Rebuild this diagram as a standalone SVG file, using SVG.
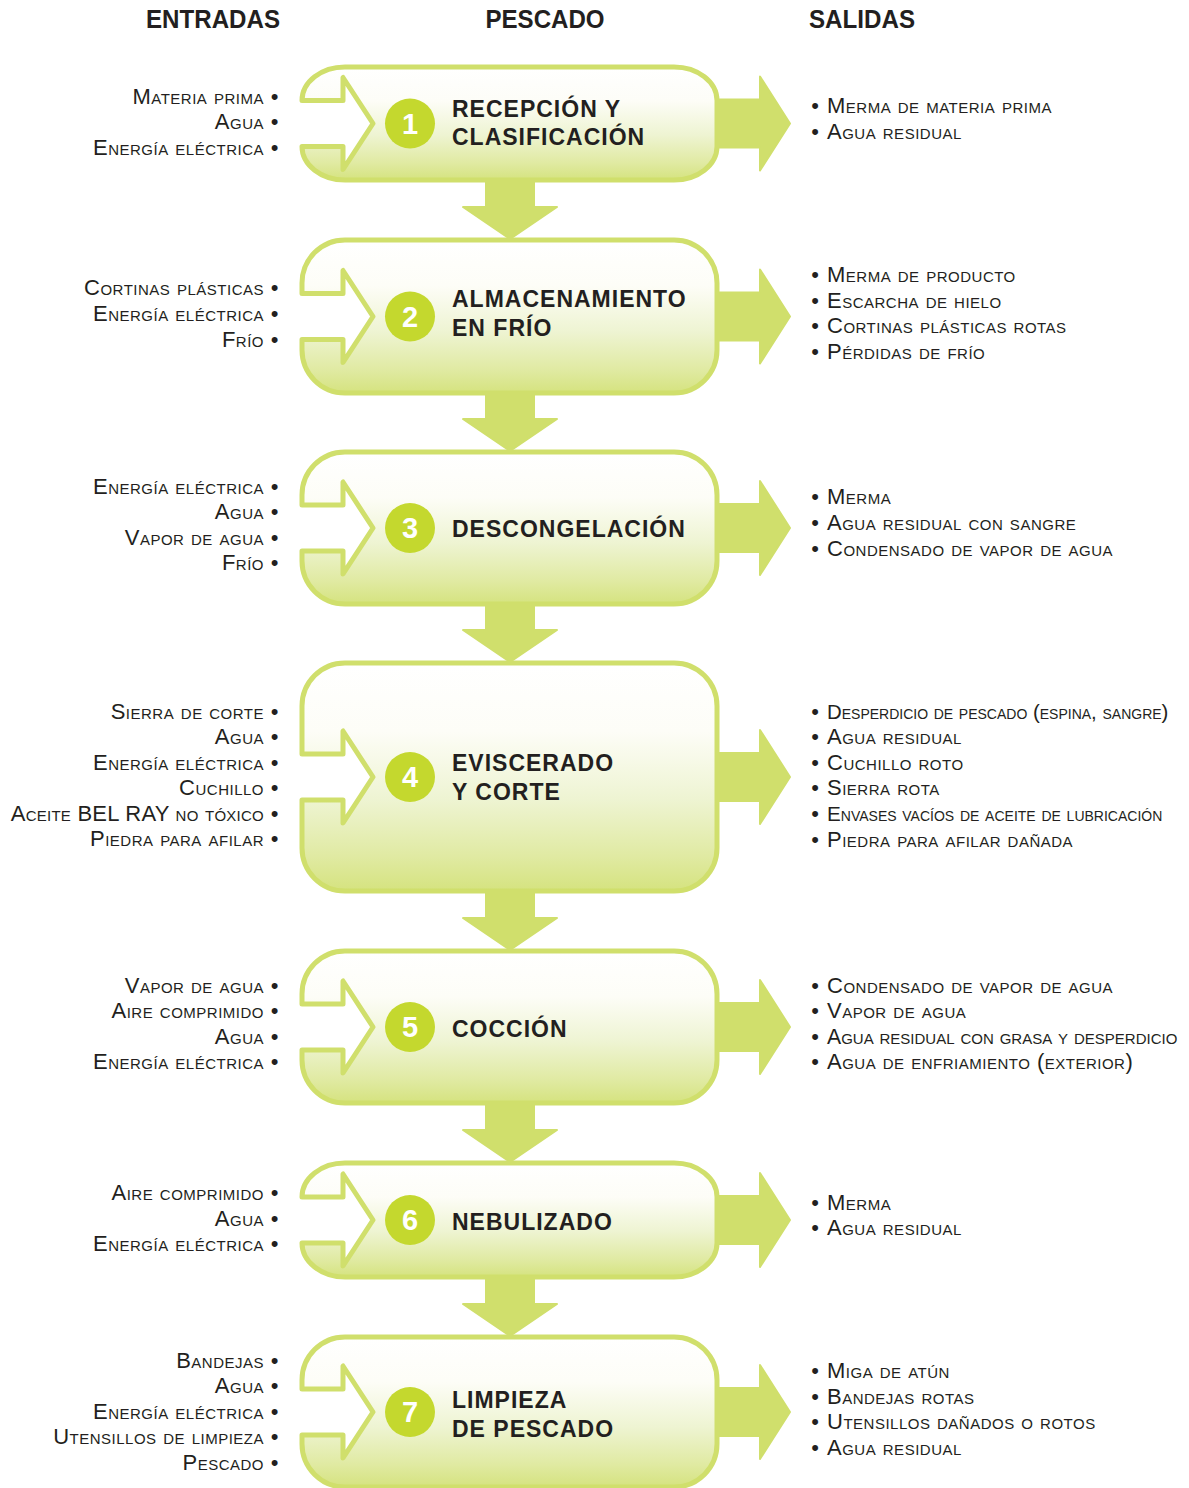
<svg xmlns="http://www.w3.org/2000/svg" width="1189" height="1488" viewBox="0 0 1189 1488">
<defs>
<linearGradient id="g" x1="0" y1="0" x2="0" y2="1">
<stop offset="0" stop-color="#ffffff"/>
<stop offset="0.3" stop-color="#fdfdf7"/>
<stop offset="0.6" stop-color="#eef4d2"/>
<stop offset="0.85" stop-color="#e0eaa2"/>
<stop offset="1" stop-color="#d5e37f"/>
</linearGradient>
<style>
.box{fill:url(#g);stroke:#d0df6c;stroke-width:5;stroke-linejoin:round}
.arr{fill:#d0df6c;stroke:#d0df6c;stroke-width:2;stroke-linejoin:round}
.num{fill:#c4d82e}
.nt{font-family:"Liberation Sans",Arial,Helvetica,sans-serif;font-weight:bold;font-size:29px;fill:#ffffff;text-anchor:middle}
.tt{font-family:"Liberation Sans",Arial,Helvetica,sans-serif;font-weight:bold;font-size:23px;letter-spacing:1px;fill:#231f20}
.hd{font-family:"Liberation Sans Narrow","Liberation Sans",Arial,sans-serif;font-weight:bold;font-size:25px;fill:#231f20;text-anchor:middle}
.in{font-family:"Liberation Sans",Arial,Helvetica,sans-serif;font-size:22px;letter-spacing:0.5px;font-variant:small-caps;fill:#231f20;text-anchor:end}
.out{font-family:"Liberation Sans",Arial,Helvetica,sans-serif;font-size:22px;letter-spacing:0.5px;font-variant:small-caps;fill:#231f20}
.b{font-family:"Liberation Sans",Arial,Helvetica,sans-serif;font-size:22px;fill:#231f20;text-anchor:middle}
</style>
</defs>
<rect width="1189" height="1488" fill="#ffffff"/>
<g id="headers">
<text class="hd" x="213" y="28" textLength="134" lengthAdjust="spacingAndGlyphs">ENTRADAS</text>
<text class="hd" x="545" y="28" textLength="119" lengthAdjust="spacingAndGlyphs">PESCADO</text>
<text class="hd" x="862" y="28" textLength="106" lengthAdjust="spacingAndGlyphs">SALIDAS</text>
</g>
<g id="connectors">
<polygon class="arr" points="712,99.5 760,99.5 760,76.5 790,123.5 760,170.5 760,147.5 712,147.5"/>
<polygon class="arr" points="712,292.5 760,292.5 760,269.5 790,316.5 760,363.5 760,340.5 712,340.5"/>
<polygon class="arr" points="712,504 760,504 760,481 790,528 760,575 760,552 712,552"/>
<polygon class="arr" points="712,753 760,753 760,730 790,777 760,824 760,801 712,801"/>
<polygon class="arr" points="712,1003 760,1003 760,980 790,1027 760,1074 760,1051 712,1051"/>
<polygon class="arr" points="712,1196 760,1196 760,1173 790,1220 760,1267 760,1244 712,1244"/>
<polygon class="arr" points="712,1388 760,1388 760,1365 790,1412 760,1459 760,1436 712,1436"/>
<polygon class="arr" points="486,176 534,176 534,207 557,207 510,239 463,207 486,207"/>
<polygon class="arr" points="486,389 534,389 534,419 557,419 510,451 463,419 486,419"/>
<polygon class="arr" points="486,600 534,600 534,630 557,630 510,662 463,630 486,630"/>
<polygon class="arr" points="486,887 534,887 534,918 557,918 510,950 463,918 486,918"/>
<polygon class="arr" points="486,1099 534,1099 534,1130 557,1130 510,1162 463,1130 486,1130"/>
<polygon class="arr" points="486,1273 534,1273 534,1304 557,1304 510,1336 463,1304 486,1304"/>
</g>
<g id="node1">
<path class="box" d="M345,67 H674 A43,33.5 0 0 1 717,100.5 V146.5 A43,33.5 0 0 1 674,180 H345 A43,33.5 0 0 1 302,146.5 H343 V169.5 L373,123.5 L343,77.5 V100.5 H302 A43,33.5 0 0 1 345,67 Z"/>
<circle class="num" cx="410" cy="123.5" r="25"/>
<text class="nt" x="410" y="133.5">1</text>
<text class="tt" x="452" y="117">RECEPCIÓN Y</text>
<text class="tt" x="452" y="145">CLASIFICACIÓN</text>
<text class="in" x="264" y="104">Materia prima</text>
<text class="in" x="264" y="129">Agua</text>
<text class="in" x="264" y="155">Energía eléctrica</text>
<text class="b" x="274.5" y="104">•</text><text class="b" x="274.5" y="129">•</text><text class="b" x="274.5" y="155">•</text>
<text class="b" x="815" y="113">•</text><text class="b" x="815" y="139">•</text>
<text class="out" x="827" y="113">Merma de materia prima</text>
<text class="out" x="827" y="139">Agua residual</text>
</g>
<g id="node2">
<path class="box" d="M345,240 H674 A43,43 0 0 1 717,283 V350 A43,43 0 0 1 674,393 H345 A43,43 0 0 1 302,350 V339.5 H343 V362.5 L373,316.5 L343,270.5 V293.5 H302 V283 A43,43 0 0 1 345,240 Z"/>
<circle class="num" cx="410" cy="316.5" r="25"/>
<text class="nt" x="410" y="326.5">2</text>
<text class="tt" x="452" y="307">ALMACENAMIENTO</text>
<text class="tt" x="452" y="336">EN FRÍO</text>
<text class="in" x="264" y="295">Cortinas plásticas</text>
<text class="in" x="264" y="321">Energía eléctrica</text>
<text class="in" x="264" y="347">Frío</text>
<text class="b" x="274.5" y="295">•</text><text class="b" x="274.5" y="321">•</text><text class="b" x="274.5" y="347">•</text>
<text class="b" x="815" y="282">•</text><text class="b" x="815" y="308">•</text><text class="b" x="815" y="333">•</text><text class="b" x="815" y="359">•</text>
<text class="out" x="827" y="282">Merma de producto</text>
<text class="out" x="827" y="308">Escarcha de hielo</text>
<text class="out" x="827" y="333">Cortinas plásticas rotas</text>
<text class="out" x="827" y="359">Pérdidas de frío</text>
</g>
<g id="node3">
<path class="box" d="M345,452 H674 A43,43 0 0 1 717,495 V561 A43,43 0 0 1 674,604 H345 A43,43 0 0 1 302,561 V551 H343 V574 L373,528 L343,482 V505 H302 V495 A43,43 0 0 1 345,452 Z"/>
<circle class="num" cx="410" cy="528" r="25"/>
<text class="nt" x="410" y="538">3</text>
<text class="tt" x="452" y="537">DESCONGELACIÓN</text>
<text class="in" x="264" y="494">Energía eléctrica</text>
<text class="in" x="264" y="519">Agua</text>
<text class="in" x="264" y="545">Vapor de agua</text>
<text class="in" x="264" y="570">Frío</text>
<text class="b" x="274.5" y="494">•</text><text class="b" x="274.5" y="519">•</text><text class="b" x="274.5" y="545">•</text><text class="b" x="274.5" y="570">•</text>
<text class="b" x="815" y="504">•</text><text class="b" x="815" y="530">•</text><text class="b" x="815" y="556">•</text>
<text class="out" x="827" y="504">Merma</text>
<text class="out" x="827" y="530">Agua residual con sangre</text>
<text class="out" x="827" y="556">Condensado de vapor de agua</text>
</g>
<g id="node4">
<path class="box" d="M345,663 H674 A43,43 0 0 1 717,706 V848 A43,43 0 0 1 674,891 H345 A43,43 0 0 1 302,848 V800 H343 V823 L373,777 L343,731 V754 H302 V706 A43,43 0 0 1 345,663 Z"/>
<circle class="num" cx="410" cy="777" r="25"/>
<text class="nt" x="410" y="787">4</text>
<text class="tt" x="452" y="771">EVISCERADO</text>
<text class="tt" x="452" y="800">Y CORTE</text>
<text class="in" x="264" y="719">Sierra de corte</text>
<text class="in" x="264" y="744">Agua</text>
<text class="in" x="264" y="770">Energía eléctrica</text>
<text class="in" x="264" y="795">Cuchillo</text>
<text class="in" x="264" y="821" style="letter-spacing:0.25px">Aceite BEL RAY no tóxico</text>
<text class="in" x="264" y="846">Piedra para afilar</text>
<text class="b" x="274.5" y="719">•</text><text class="b" x="274.5" y="744">•</text><text class="b" x="274.5" y="770">•</text><text class="b" x="274.5" y="795">•</text><text class="b" x="274.5" y="821">•</text><text class="b" x="274.5" y="846">•</text>
<text class="b" x="815" y="719">•</text><text class="b" x="815" y="744">•</text><text class="b" x="815" y="770">•</text><text class="b" x="815" y="795">•</text><text class="b" x="815" y="821">•</text><text class="b" x="815" y="847">•</text>
<text class="out" x="827" y="719" style="font-size:20.4px;letter-spacing:0">Desperdicio de pescado (espina, sangre)</text>
<text class="out" x="827" y="744">Agua residual</text>
<text class="out" x="827" y="770">Cuchillo roto</text>
<text class="out" x="827" y="795">Sierra rota</text>
<text class="out" x="827" y="821" style="font-size:20.7px;letter-spacing:0">Envases vacíos de aceite de lubricación</text>
<text class="out" x="827" y="847">Piedra para afilar dañada</text>
</g>
<g id="node5">
<path class="box" d="M345,951 H674 A43,43 0 0 1 717,994 V1060 A43,43 0 0 1 674,1103 H345 A43,43 0 0 1 302,1060 V1050 H343 V1073 L373,1027 L343,981 V1004 H302 V994 A43,43 0 0 1 345,951 Z"/>
<circle class="num" cx="410" cy="1027" r="25"/>
<text class="nt" x="410" y="1037">5</text>
<text class="tt" x="452" y="1037">COCCIÓN</text>
<text class="in" x="264" y="993">Vapor de agua</text>
<text class="in" x="264" y="1018">Aire comprimido</text>
<text class="in" x="264" y="1044">Agua</text>
<text class="in" x="264" y="1069">Energía eléctrica</text>
<text class="b" x="274.5" y="993">•</text><text class="b" x="274.5" y="1018">•</text><text class="b" x="274.5" y="1044">•</text><text class="b" x="274.5" y="1069">•</text>
<text class="b" x="815" y="993">•</text><text class="b" x="815" y="1018">•</text><text class="b" x="815" y="1044">•</text><text class="b" x="815" y="1069">•</text>
<text class="out" x="827" y="993">Condensado de vapor de agua</text>
<text class="out" x="827" y="1018">Vapor de agua</text>
<text class="out" x="827" y="1044" style="font-size:21.2px;letter-spacing:0">Agua residual con grasa y desperdicio</text>
<text class="out" x="827" y="1069">Agua de enfriamiento (exterior)</text>
</g>
<g id="node6">
<path class="box" d="M345,1163 H674 A43,34 0 0 1 717,1197 V1243 A43,34 0 0 1 674,1277 H345 A43,34 0 0 1 302,1243 H343 V1266 L373,1220 L343,1174 V1197 H302 A43,34 0 0 1 345,1163 Z"/>
<circle class="num" cx="410" cy="1220" r="25"/>
<text class="nt" x="410" y="1230">6</text>
<text class="tt" x="452" y="1230">NEBULIZADO</text>
<text class="in" x="264" y="1200">Aire comprimido</text>
<text class="in" x="264" y="1226">Agua</text>
<text class="in" x="264" y="1251">Energía eléctrica</text>
<text class="b" x="274.5" y="1200">•</text><text class="b" x="274.5" y="1226">•</text><text class="b" x="274.5" y="1251">•</text>
<text class="b" x="815" y="1210">•</text><text class="b" x="815" y="1235">•</text>
<text class="out" x="827" y="1210">Merma</text>
<text class="out" x="827" y="1235">Agua residual</text>
</g>
<g id="node7">
<path class="box" d="M345,1337 H674 A43,43 0 0 1 717,1380 V1444 A43,43 0 0 1 674,1487 H345 A43,43 0 0 1 302,1444 V1435 H343 V1458 L373,1412 L343,1366 V1389 H302 V1380 A43,43 0 0 1 345,1337 Z"/>
<circle class="num" cx="410" cy="1412" r="25"/>
<text class="nt" x="410" y="1422">7</text>
<text class="tt" x="452" y="1408">LIMPIEZA</text>
<text class="tt" x="452" y="1437">DE PESCADO</text>
<text class="in" x="264" y="1368">Bandejas</text>
<text class="in" x="264" y="1393">Agua</text>
<text class="in" x="264" y="1419">Energía eléctrica</text>
<text class="in" x="264" y="1444">Utensillos de limpieza</text>
<text class="in" x="264" y="1470">Pescado</text>
<text class="b" x="274.5" y="1368">•</text><text class="b" x="274.5" y="1393">•</text><text class="b" x="274.5" y="1419">•</text><text class="b" x="274.5" y="1444">•</text><text class="b" x="274.5" y="1470">•</text>
<text class="b" x="815" y="1378">•</text><text class="b" x="815" y="1404">•</text><text class="b" x="815" y="1429">•</text><text class="b" x="815" y="1455">•</text>
<text class="out" x="827" y="1378">Miga de atún</text>
<text class="out" x="827" y="1404">Bandejas rotas</text>
<text class="out" x="827" y="1429">Utensillos dañados o rotos</text>
<text class="out" x="827" y="1455">Agua residual</text>
</g>
</svg>
